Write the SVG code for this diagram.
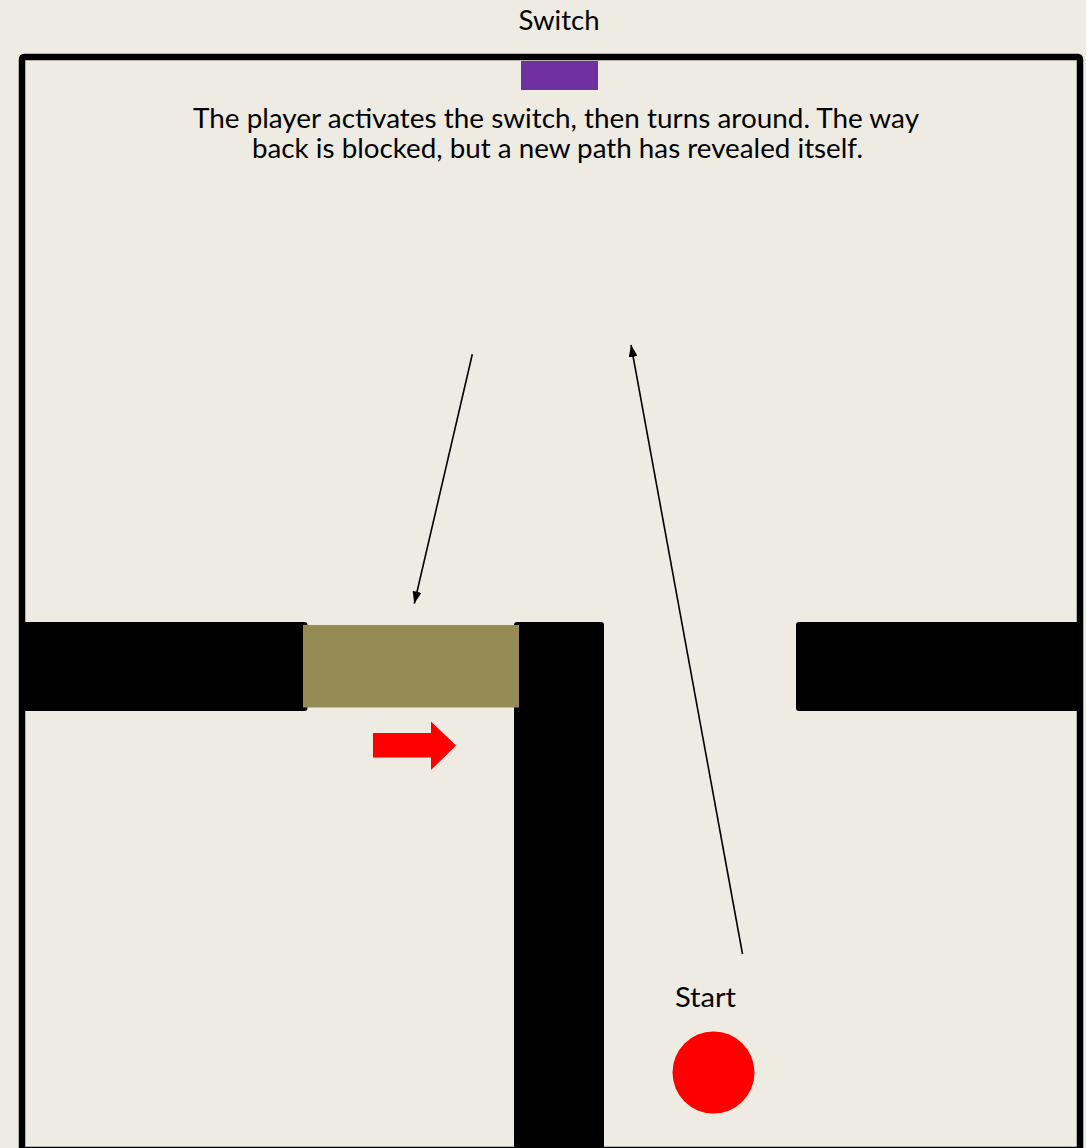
<svg xmlns="http://www.w3.org/2000/svg" width="1086" height="1148" viewBox="0 0 1086 1148">
  <defs>
    <style>
      .lbl { font-family: Lato, "Liberation Sans", sans-serif; font-size: 27px; fill: #000; }
      .wall { fill: #000; }
      .conn { stroke: #000; stroke-width: 1.6; fill: none; marker-end: url(#ah); }
    </style>
    <marker id="ah" viewBox="0 0 12 9" refX="12" refY="4.5" markerWidth="12" markerHeight="9" markerUnits="userSpaceOnUse" orient="auto">
      <path d="M0,0 L12,4.5 L0,9 z" fill="#000"/>
    </marker>
  </defs>
  <rect x="0" y="0" width="1086" height="1148" fill="#EEEBE3"/>

  <g id="frame">
    <rect x="22" y="57" width="1058" height="1093" rx="2" fill="none" stroke="#000" stroke-width="6.5"/>
  </g>

  <g id="switch-label">
    <text class="lbl" x="518.5" y="30" textLength="81" lengthAdjust="spacingAndGlyphs">Switch</text>
  </g>
  <g id="switch">
    <rect x="521" y="61" width="77" height="29" fill="#7030A0"/>
  </g>

  <g id="description">
    <text class="lbl" x="193" y="127.5" textLength="726" lengthAdjust="spacingAndGlyphs">The player activates the switch, then turns around. The way</text>
    <text class="lbl" x="252" y="157.5" textLength="611" lengthAdjust="spacingAndGlyphs">back is blocked, but a new path has revealed itself.</text>
  </g>

  <g id="wall-left">
    <rect class="wall" x="22" y="622" width="285.5" height="89" rx="3"/>
  </g>
  <g id="wall-center">
    <rect class="wall" x="514" y="622" width="90" height="540" rx="3"/>
  </g>
  <g id="wall-right">
    <rect class="wall" x="796" y="622" width="287" height="89" rx="3"/>
  </g>
  <g id="door">
    <rect x="303" y="625" width="216" height="82.5" fill="#968A55"/>
  </g>

  <g id="push-arrow">
    <polygon points="373,733 431,733 431,721.5 456,745.5 431,770 431,757.5 373,757.5" fill="#FF0000"/>
  </g>

  <g id="start-label">
    <text class="lbl" x="675" y="1006.5" textLength="61" lengthAdjust="spacingAndGlyphs">Start</text>
  </g>
  <g id="start">
    <circle cx="713.5" cy="1072.5" r="41" fill="#FF0000"/>
  </g>

  <g id="connectors">
    <line class="conn" x1="742.5" y1="954" x2="631" y2="345"/>
    <line class="conn" x1="472.3" y1="354.3" x2="414.3" y2="603.5"/>
  </g>
</svg>
